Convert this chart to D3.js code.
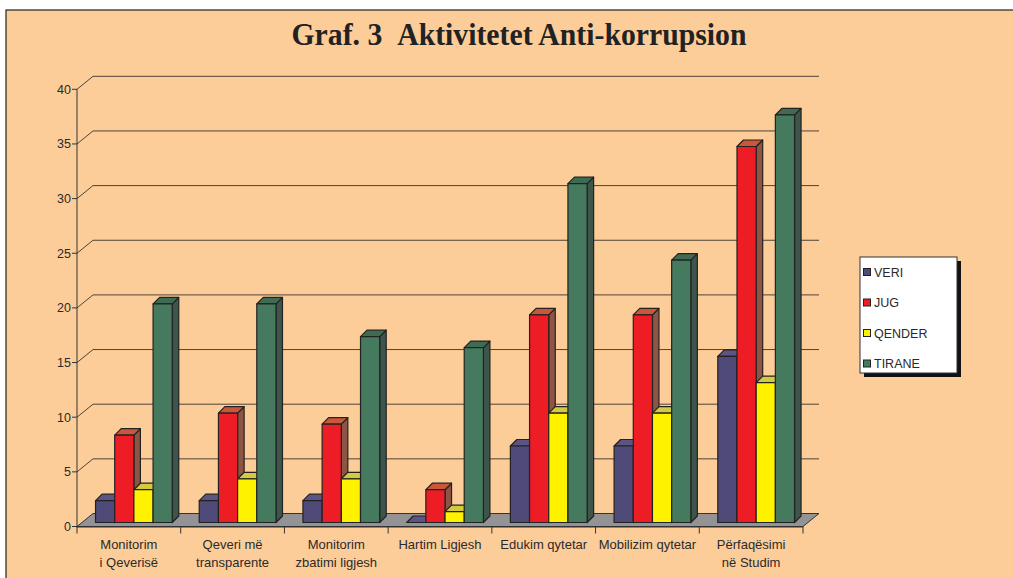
<!DOCTYPE html>
<html>
<head>
<meta charset="utf-8">
<script src="https://cdn.jsdelivr.net/npm/d3@7"></script>
<style>
  body { margin: 0; background: #fff; }
  text { font-family: Arial, "Liberation Sans", sans-serif; fill: #2a2a2a; }
</style>
</head>
<body>
<div id="chart"></div>
<script>
// data
const categories = [
  ["Monitorim", "i Qeverisë"],
  ["Qeveri më", "transparente"],
  ["Monitorim", "zbatimi ligjesh"],
  ["Hartim Ligjesh"],
  ["Edukim qytetar"],
  ["Mobilizim qytetar"],
  ["Përfaqësimi", "në Studim"]
];
const series = ["VERI", "JUG", "QENDER", "TIRANE"];
const veri   = [2, 2, 2, 0, 7, 7, 15.2];
const jug    = [8, 10, 9, 3, 19, 19, 34.4];
const qender = [3, 4, 4, 1, 10, 10, 12.8];
const tirane = [20, 20, 17, 16, 31, 24, 37.3];
const yTicks = [0, 5, 10, 15, 20, 25, 30, 35, 40];

const values = { VERI: veri, JUG: jug, QENDER: qender, TIRANE: tirane };
const front = { VERI: "#4f4a78", JUG: "#ee1d25", QENDER: "#fff200", TIRANE: "#467a5e" };
const top_c = { VERI: "#5a5585", JUG: "#c9583b", QENDER: "#d4ca42", TIRANE: "#3f6b55" };
const side  = { VERI: "#3c3960", JUG: "#8e5444", QENDER: "#b8ad2e", TIRANE: "#3d554a" };

const W = 1013, H = 578;
const svg = d3.select("#chart").append("svg")
  .attr("width", W).attr("height", H);

// panel
svg.append("rect").attr("width", W).attr("height", H).attr("fill", "#fff");
svg.append("rect").attr("x", 6).attr("y", 10).attr("width", W).attr("height", H)
  .attr("fill", "#fdcd99").attr("stroke", "#222").attr("stroke-width", 1.2);

svg.append("text")
  .attr("x", 519).attr("y", 45)
  .attr("text-anchor", "middle")
  .style("font-family", "'Liberation Serif', 'Times New Roman', serif")
  .style("font-weight", "bold")
  .style("font-size", "32px")
  .attr("textLength", 455).attr("lengthAdjust", "spacingAndGlyphs")
  .style("fill", "#222")
  .text("Graf. 3\u00a0\u00a0Aktivitetet Anti-korrupsion");

// plot geometry
const x0 = 77, x1 = 803;
const wallDx = 16, wallDy = -13;     // back wall offset
const barDx = 4, barDy = -4;         // bar row offset inside the depth
const depth = 6.5;                   // bar depth

const y = d3.scaleLinear().domain([0, 40]).range([526.5, 89.3]);
const xCat = d3.scaleBand().domain(d3.range(categories.length)).range([x0, x1]);
const bw = xCat.bandwidth();
const xSer = d3.scaleBand().domain(series).range([bw * 0.14, bw * 0.88]);

// grid lines (side wall diagonal + back wall)
const grid = svg.append("g").attr("stroke", "#4e4236").attr("stroke-width", 1).attr("fill", "none");
yTicks.filter(t => t > 0).forEach(t => {
  grid.append("path")
    .attr("d", `M${x0},${y(t)}L${x0 + wallDx},${y(t) + wallDy}L${x1 + wallDx},${y(t) + wallDy}`);
});

// floor
svg.append("path")
  .attr("d", `M${x0},${y(0)}L${x1},${y(0)}L${x1 + wallDx},${y(0) + wallDy}L${x0 + wallDx},${y(0) + wallDy}Z`)
  .attr("fill", "#939395").attr("stroke", "#333").attr("stroke-width", 1);

// y axis
const yAxis = svg.append("g");
yAxis.append("line").attr("x1", x0).attr("x2", x0).attr("y1", y(40)).attr("y2", y(0) + 1)
  .attr("stroke", "#333");
yTicks.forEach(t => {
  yAxis.append("line").attr("x1", x0 - 5).attr("x2", x0).attr("y1", y(t)).attr("y2", y(t)).attr("stroke", "#333");
  yAxis.append("text").attr("x", x0 - 6).attr("y", y(t) + 4.5)
    .attr("text-anchor", "end").style("font-size", "12.5px").text(t);
});

// x axis
const xAxis = svg.append("g");
xAxis.append("line").attr("x1", x0).attr("x2", x1).attr("y1", y(0) + 0.5).attr("y2", y(0) + 0.5).attr("stroke", "#333");
d3.range(categories.length + 1).forEach(i => {
  const xx = x0 + i * bw;
  xAxis.append("line").attr("x1", xx).attr("x2", xx).attr("y1", y(0)).attr("y2", y(0) + 7).attr("stroke", "#333");
});
categories.forEach((lines, i) => {
  const t = xAxis.append("text").attr("text-anchor", "middle").style("font-size", "13px");
  lines.forEach((ln, k) => {
    t.append("tspan").attr("x", xCat(i) + bw / 2).attr("y", 549 + k * 18).text(ln);
  });
});

// bars
const bars = svg.append("g").attr("stroke", "#222").attr("stroke-width", 1.2).attr("stroke-linejoin", "round");
categories.forEach((c, i) => {
  series.forEach(s => {
    const v = values[s][i];
    const bx = xCat(i) + xSer(s) + barDx;
    const w = xSer.bandwidth();
    const yb = y(0) + barDy;
    const yt = y(v) + barDy;
    if (v > 0) {
      bars.append("path")
        .attr("d", `M${bx + w},${yt}L${bx + w + depth},${yt - depth}L${bx + w + depth},${yb - depth}L${bx + w},${yb}Z`)
        .attr("fill", side[s]);
    }
    bars.append("path")
      .attr("d", `M${bx},${yt}L${bx + depth},${yt - depth}L${bx + w + depth},${yt - depth}L${bx + w},${yt}Z`)
      .attr("fill", top_c[s]);
    if (v > 0) {
      bars.append("rect").attr("x", bx).attr("y", yt).attr("width", w).attr("height", yb - yt)
        .attr("fill", front[s]);
    }
  });
});

// legend
const lg = svg.append("g").attr("transform", "translate(860,257)");
lg.append("rect").attr("x", 4).attr("y", 4).attr("width", 97).attr("height", 116).attr("fill", "#111");
lg.append("rect").attr("width", 97).attr("height", 116).attr("fill", "#fff").attr("stroke", "#333");
series.forEach((s, k) => {
  const yy = 15 + k * 30.5;
  lg.append("rect").attr("x", 3.5).attr("y", yy - 3.5).attr("width", 7).attr("height", 7)
    .attr("fill", front[s]).attr("stroke", "#222").attr("stroke-width", 1);
  lg.append("text").attr("x", 14).attr("y", yy + 4.5).style("font-size", "12.5px").text(s);
});
</script>
</body>
</html>
